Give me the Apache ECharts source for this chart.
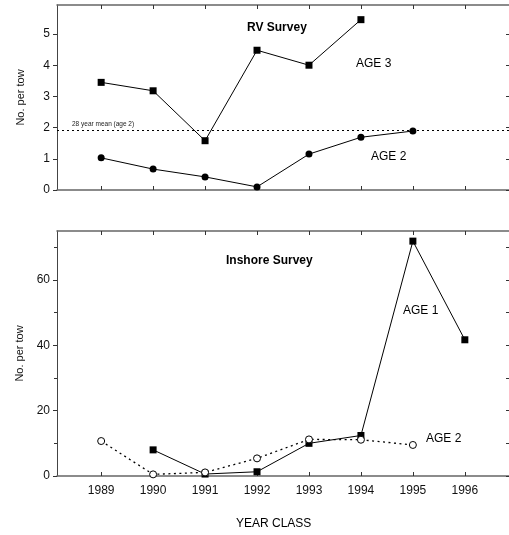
<!DOCTYPE html>
<html><head><meta charset="utf-8">
<script src="https://cdn.jsdelivr.net/npm/echarts@6/dist/echarts.min.js"></script>
<style>html,body{margin:0;padding:0;background:#fff}#c{width:509px;height:535px}</style>
</head><body><div id="c"></div>
<script>
const years = [1989, 1990, 1991, 1992, 1993, 1994, 1995, 1996];
const rvAge3Years = [1989, 1990, 1991, 1992, 1993, 1994];
const rvAge3 = [3.45, 3.18, 1.58, 4.48, 4.0, 5.46];
const rvAge2Years = [1989, 1990, 1991, 1992, 1993, 1994, 1995];
const rvAge2 = [1.03, 0.67, 0.42, 0.1, 1.15, 1.69, 1.89];
const rvMean = 1.92;
const inAge1Years = [1990, 1991, 1992, 1993, 1994, 1995, 1996];
const inAge1 = [8.0, 0.6, 1.3, 10.0, 12.4, 71.9, 41.7];
const inAge2Years = [1989, 1990, 1991, 1992, 1993, 1994, 1995];
const inAge2 = [10.7, 0.5, 1.1, 5.4, 11.2, 11.1, 9.5];
const rvTicks = [0, 1, 2, 3, 4, 5];
const inMajor = [0, 20, 40, 60];
const inMinor = [10, 30, 50, 70];

const FONT = '"Liberation Sans", Arial, sans-serif';
const zip = (xs, ys) => xs.map((x, i) => [x, ys[i]]);
const XMIN = 1988.15, XMAX = 1996.85;
const frameColor = '#666';

function xAx(grid, pos, labels) {
  return {
    type: 'value', gridIndex: grid, position: pos, min: XMIN, max: XMAX,
    axisLine: { show: true, onZero: false, lineStyle: { color: frameColor, width: 1.5 } },
    axisTick: { show: true, inside: true, length: 4, customValues: years, lineStyle: { color: '#333' } },
    axisLabel: { show: labels, customValues: years, color: '#111', fontFamily: FONT, fontSize: 12, margin: 9,
      formatter: v => String(Math.round(v)) },
    splitLine: { show: false }
  };
}
function yAx(grid, max, ticks, opts) {
  return Object.assign({
    type: 'value', gridIndex: grid, min: 0, max: max, position: 'left',
    axisLine: { show: true, lineStyle: { color: '#444' } },
    axisTick: { show: true, inside: false, length: 4, customValues: ticks, lineStyle: { color: '#333' } },
    axisLabel: { show: true, customValues: ticks, color: '#111', fontFamily: FONT, fontSize: 12, margin: 7 },
    splitLine: { show: false }
  }, opts || {});
}

const chart = echarts.init(document.getElementById('c'), null, { renderer: 'canvas' });
chart.setOption({
  animation: false,
  backgroundColor: '#fff',
  grid: [
    { left: 57, top: 5, right: -1, height: 185 },
    { left: 57, top: 231, right: -1, height: 245 }
  ],
  xAxis: [
    xAx(0, 'bottom', false), xAx(0, 'top', false),
    xAx(1, 'bottom', true), xAx(1, 'top', false)
  ],
  yAxis: [
    yAx(0, 5.93, rvTicks, { name: 'No. per tow', nameLocation: 'middle', nameGap: 31,
      nameTextStyle: { fontFamily: FONT, fontSize: 11, color: '#111' } }),
    yAx(0, 5.93, rvTicks, { position: 'right', axisLine: { show: false },
      axisTick: { show: true, inside: true, length: 3, customValues: rvTicks, lineStyle: { color: '#333' } },
      axisLabel: { show: false } }),
    yAx(1, 75, inMajor, { name: 'No. per tow', nameLocation: 'middle', nameGap: 31,
      nameTextStyle: { fontFamily: FONT, fontSize: 11, color: '#111' } }),
    yAx(1, 75, inMinor, { axisLine: { show: false },
      axisTick: { show: true, inside: false, length: 3, customValues: inMinor, lineStyle: { color: '#333' } },
      axisLabel: { show: false } }),
    yAx(1, 75, inMajor.concat(inMinor), { position: 'right', axisLine: { show: false },
      axisTick: { show: true, inside: true, length: 3, customValues: inMajor.concat(inMinor), lineStyle: { color: '#333' } },
      axisLabel: { show: false } })
  ],
  series: [
    { type: 'line', xAxisIndex: 0, yAxisIndex: 0, data: zip(rvAge3Years, rvAge3),
      symbol: 'rect', symbolSize: 7, lineStyle: { color: '#000', width: 1 }, itemStyle: { color: '#000' },
      markLine: { silent: true, symbol: 'none', label: { show: false },
        lineStyle: { color: '#000', type: [2, 3], width: 1.2 }, data: [{ yAxis: rvMean }] } },
    { type: 'line', xAxisIndex: 0, yAxisIndex: 0, data: zip(rvAge2Years, rvAge2),
      symbol: 'circle', symbolSize: 7, lineStyle: { color: '#000', width: 1 }, itemStyle: { color: '#000' } },
    { type: 'line', xAxisIndex: 2, yAxisIndex: 2, data: zip(inAge1Years, inAge1),
      symbol: 'rect', symbolSize: 7, lineStyle: { color: '#000', width: 1 }, itemStyle: { color: '#000' } },
    { type: 'line', xAxisIndex: 2, yAxisIndex: 2, data: zip(inAge2Years, inAge2),
      symbol: 'circle', symbolSize: 7, lineStyle: { color: '#000', width: 1.3, type: [2, 3.5] },
      itemStyle: { color: '#fff', borderColor: '#000', borderWidth: 1 } }
  ],
  graphic: [
    { type: 'text', left: 247, top: 22, style: { text: 'RV Survey', font: 'bold 12px ' + FONT, fill: '#000' } },
    { type: 'text', left: 356, top: 58, style: { text: 'AGE 3', font: '12px ' + FONT, fill: '#000' } },
    { type: 'text', left: 371, top: 151, style: { text: 'AGE 2', font: '12px ' + FONT, fill: '#000' } },
    { type: 'text', left: 72, top: 121, style: { text: '28 year mean (age 2)', font: '6.5px ' + FONT, fill: '#222' } },
    { type: 'text', left: 226, top: 255, style: { text: 'Inshore Survey', font: 'bold 12px ' + FONT, fill: '#000' } },
    { type: 'text', left: 403, top: 305, style: { text: 'AGE 1', font: '12px ' + FONT, fill: '#000' } },
    { type: 'text', left: 426, top: 433, style: { text: 'AGE 2', font: '12px ' + FONT, fill: '#000' } },
    { type: 'text', left: 236, top: 518, style: { text: 'YEAR CLASS', font: '12px ' + FONT, fill: '#000' } }
  ]
});
</script></body></html>
